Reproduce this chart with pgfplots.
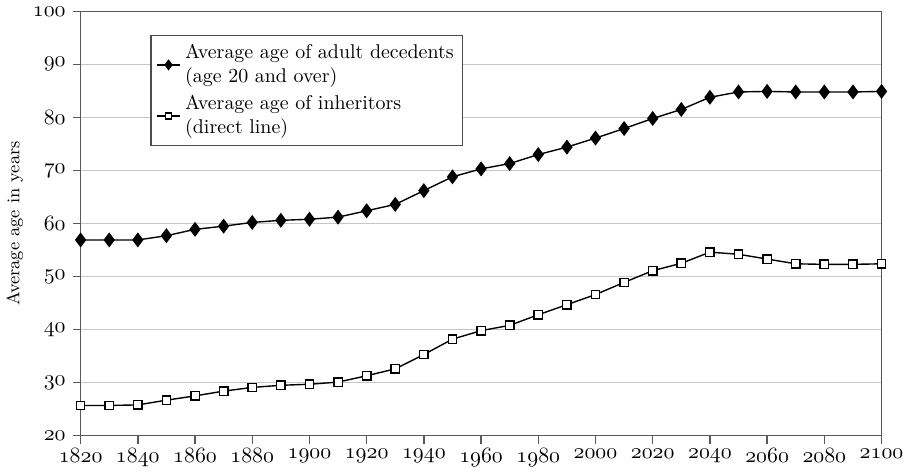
\documentclass[border=0pt]{standalone}
\usepackage{pgfplots}
\pgfplotsset{compat=1.18}
\begin{document}
\begin{tikzpicture}
\begin{axis}[
  scale only axis,
  width=402pt, height=213pt,
  xmin=1820, xmax=2100, ymin=20, ymax=100,
  xtick={1820,1840,...,2100},
  ytick={20,30,...,100},
  xticklabel={$\mathnormal{\pgfmathprintnumber[1000 sep={},assume math mode=true]{\tick}}$},
  yticklabel={$\mathnormal{\pgfmathprintnumber[assume math mode=true]{\tick}}$},
  tick label style={font=\fontsize{11}{13}\selectfont},
  xticklabel style={yshift=1pt},
  tick align=outside,
  tick pos=left,
  major tick length=4pt,
  ymajorgrids,
  grid style={gray!45, line width=0.7pt},
  axis line style={gray!70!black, line width=0.8pt},
  major tick style={gray!70!black, line width=0.7pt},
  ylabel={Average age in years},
  ylabel style={font=\small, yshift=-2pt},
  legend style={at={(0.087,0.945)}, anchor=north west, draw=gray!60!black, line width=0.7pt,
    font=\normalsize, cells={align=left, anchor=west}, inner sep=2.5pt, row sep=1pt},
  legend cell align=left,
  legend image post style={scale=0.7},
]
\addplot[black, line width=0.7pt, mark=diamond*, mark size=3.2pt, mark options={fill=black}] coordinates {
(1820,56.9) (1830,56.9) (1840,56.9) (1850,57.7) (1860,58.9) (1870,59.5) (1880,60.2) (1890,60.6)
(1900,60.8) (1910,61.2) (1920,62.4) (1930,63.6) (1940,66.2) (1950,68.8) (1960,70.3) (1970,71.3)
(1980,73.0) (1990,74.4) (2000,76.1) (2010,77.9) (2020,79.8) (2030,81.5) (2040,83.8) (2050,84.8)
(2060,84.9) (2070,84.8) (2080,84.8) (2090,84.8) (2100,84.9)};
\addlegendentry{Average age of adult decedents\\(age 20 and over)}
\addplot[black, line width=0.7pt, mark=square*, mark size=2.1pt, mark options={fill=white, line width=0.7pt}] coordinates {
(1820,25.7) (1830,25.7) (1840,25.8) (1850,26.7) (1860,27.5) (1870,28.4) (1880,29.1) (1890,29.5)
(1900,29.7) (1910,30.1) (1920,31.3) (1930,32.6) (1940,35.3) (1950,38.2) (1960,39.8) (1970,40.8)
(1980,42.8) (1990,44.7) (2000,46.6) (2010,48.9) (2020,51.1) (2030,52.5) (2040,54.6) (2050,54.2)
(2060,53.3) (2070,52.4) (2080,52.3) (2090,52.3) (2100,52.4)};
\addlegendentry{Average age of inheritors\\(direct line)}
\end{axis}
\end{tikzpicture}
\end{document}
